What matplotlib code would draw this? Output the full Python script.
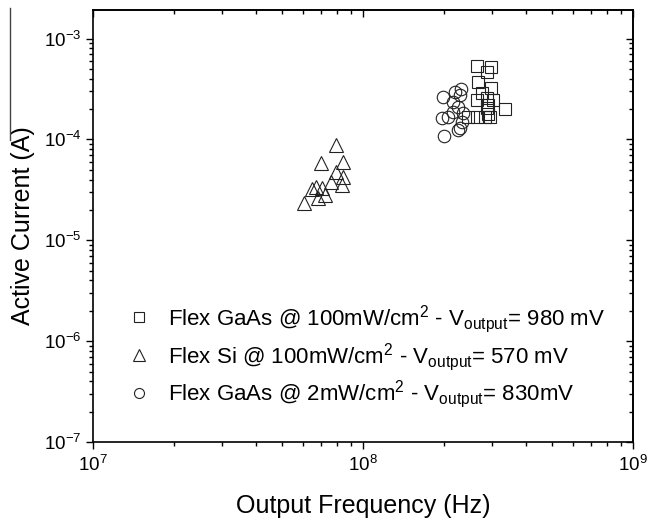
import numpy as np
import matplotlib
matplotlib.use("Agg")
import matplotlib.pyplot as plt
from matplotlib.lines import Line2D

plt.rcParams['font.family'] = ['Liberation Sans', 'DejaVu Sans']
plt.rcParams['mathtext.fontset'] = 'custom'
plt.rcParams['mathtext.rm'] = 'Liberation Sans'
plt.rcParams['mathtext.it'] = 'Liberation Sans'
plt.rcParams['mathtext.default'] = 'regular'

# --- data (Hz, A) ---
gaas100_f = [2.64e8, 2.97e8, 2.87e8, 2.67e8, 2.98e8, 2.75e8, 2.65e8, 2.87e8, 3.04e8,
             2.90e8, 3.36e8, 2.87e8, 2.83e8, 2.64e8, 2.96e8, 2.45e8, 2.90e8]
gaas100_i = [5.3e-4, 5.2e-4, 4.7e-4, 3.7e-4, 3.25e-4, 2.9e-4, 2.45e-4, 2.55e-4, 2.45e-4,
             2.2e-4, 2.0e-4, 2.03e-4, 1.68e-4, 1.68e-4, 1.68e-4, 1.68e-4, 1.8e-4]

si100_f = [7.94e7, 6.97e7, 8.41e7, 7.94e7, 8.46e7, 8.34e7, 7.59e7, 7.03e7, 6.46e7,
           7.23e7, 6.83e7, 6.04e7, 6.7e7]
si100_i = [8.8e-5, 5.9e-5, 6.0e-5, 4.8e-5, 4.2e-5, 3.55e-5, 3.8e-5, 3.3e-5, 3.25e-5,
           2.8e-5, 2.6e-5, 2.36e-5, 3.4e-5]

gaas2_f = [1.97e8, 2.19e8, 2.29e8, 2.31e8, 2.16e8, 2.25e8, 1.96e8, 2.07e8, 2.16e8,
           2.35e8, 2.32e8, 2.29e8, 2.25e8, 2.0e8]
gaas2_i = [2.61e-4, 2.97e-4, 2.75e-4, 3.18e-4, 2.36e-4, 2.11e-4, 1.62e-4, 1.68e-4, 1.88e-4,
           1.82e-4, 1.5e-4, 1.29e-4, 1.24e-4, 1.09e-4]

labels = [r'Flex GaAs @ 100mW/cm$^2$ - V$_{output}$= 980 mV',
          r'Flex Si @ 100mW/cm$^2$ - V$_{output}$= 570 mV',
          r'Flex GaAs @ 2mW/cm$^2$ - V$_{output}$= 830mV']

fig = plt.figure(figsize=(6.48, 5.26), dpi=100)
ax = fig.add_axes([93/648, 1 - 442/526, 540/648, 432/526])

edge = '#222222'
ax.plot(gaas100_f, gaas100_i, 's', ms=8.5, mfc='none', mec=edge, mew=0.8, label=labels[0])
ax.plot(si100_f, si100_i, '^', ms=10, mfc='none', mec=edge, mew=0.8, label=labels[1])
ax.plot(gaas2_f, gaas2_i, 'o', ms=9, mfc='none', mec=edge, mew=0.8, label=labels[2])

ax.set_xscale('log')
ax.set_yscale('log')
ax.set_xlim(1e7, 1e9)
ax.set_ylim(1e-7, 1.92e-3)

for s in ax.spines.values():
    s.set_linewidth(1.2)

ax.tick_params(which='both', direction='out', width=1.0, labelsize=13.5, colors='black')
ax.tick_params(which='major', length=5)
ax.tick_params(which='minor', length=3)
ax.tick_params(axis='x', pad=4)

# mirrored ticks on top/right, pointing inward
top = ax.secondary_xaxis('top')
top.tick_params(which='both', direction='in', width=1.0, labeltop=False)
top.tick_params(which='major', length=5)
top.tick_params(which='minor', length=3)
top.spines['top'].set_linewidth(1.2)
right = ax.secondary_yaxis('right')
right.tick_params(which='both', direction='in', width=1.0, labelright=False)
right.tick_params(which='major', length=5)
right.tick_params(which='minor', length=3)
right.spines['right'].set_linewidth(1.2)

ax.set_xlabel('Output Frequency (Hz)', fontsize=18, labelpad=14)
ax.set_ylabel('Active Current (A)', fontsize=18, labelpad=6)

ax.legend(loc='upper left', bbox_to_anchor=(35/540, 0.321), frameon=False,
          fontsize=16, handlelength=0.95, handletextpad=0.85, borderpad=0,
          borderaxespad=0, labelspacing=0.25, markerscale=0.8)

# stray line at the top-left edge of the original figure
fig.add_artist(Line2D([10/648, 10/648], [1 - 8/526, 1 - 140/526], color='#444444', lw=1.0))

fig.savefig('out.png', dpi=100)
